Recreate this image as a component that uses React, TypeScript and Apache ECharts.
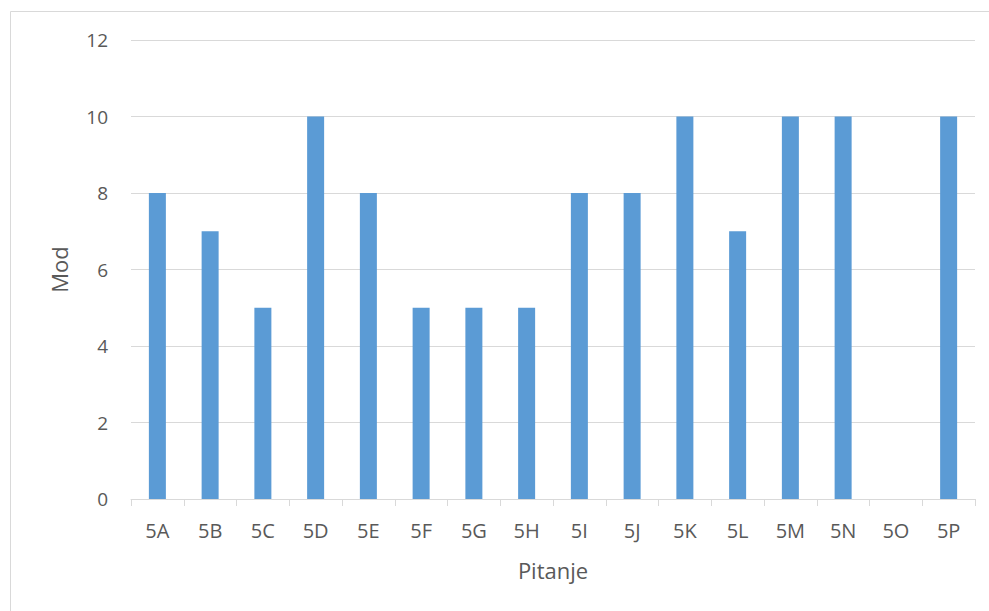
import React, { useEffect, useRef } from "react";
import * as echarts from "echarts";

const categories = ["5A", "5B", "5C", "5D", "5E", "5F", "5G", "5H", "5I", "5J", "5K", "5L", "5M", "5N", "5O", "5P"];
const values: (number | null)[] = [8, 7, 5, 10, 8, 5, 5, 5, 8, 8, 10, 7, 10, 10, null, 10];
const yTicks = { min: 0, max: 12, interval: 2 };

export default function App() {
  const ref = useRef<HTMLDivElement>(null);
  useEffect(() => {
    const chart = echarts.init(ref.current!, null, { renderer: "svg" });
    const font = "'Open Sans', 'Liberation Sans', sans-serif";
    chart.setOption({
      animation: false,
      backgroundColor: "#ffffff",
      graphic: [
        {
          type: "rect",
          shape: { x: 10.5, y: 11.5, width: 1000, height: 700 },
          style: { fill: "none", stroke: "#D9D9D9", lineWidth: 1 },
          silent: true,
        },
      ],
      grid: { left: 131, right: 14, top: 40, bottom: 112 },
      xAxis: {
        type: "category",
        data: categories,
        name: "Pitanje",
        nameLocation: "middle",
        nameGap: 60,
        nameTextStyle: { color: "#595959", fontSize: 22, fontFamily: font },
        axisLine: { lineStyle: { color: "#D9D9D9", width: 1 } },
        axisTick: { show: true, length: 7, lineStyle: { color: "#D9D9D9" } },
        axisLabel: { color: "#595959", fontSize: 20, fontFamily: font, margin: 21 },
        splitLine: { show: false },
      },
      yAxis: {
        type: "value",
        min: yTicks.min,
        max: yTicks.max,
        interval: yTicks.interval,
        name: "Mod",
        nameLocation: "middle",
        nameGap: 61,
        nameTextStyle: { color: "#595959", fontSize: 22, fontFamily: font },
        axisLine: { show: false },
        axisTick: { show: false },
        axisLabel: { color: "#595959", fontSize: 19, fontFamily: font, margin: 23 },
        splitLine: { lineStyle: { color: "#D9D9D9", width: 1 } },
      },
      series: [
        {
          type: "bar",
          data: values,
          barWidth: 17,
          itemStyle: { color: "#5B9BD5" },
        },
      ],
    });
    return () => chart.dispose();
  }, []);
  return (
    <div
      ref={ref}
      style={{ position: "fixed", left: 0, top: 0, width: 989, height: 611 }}
    />
  );
}
